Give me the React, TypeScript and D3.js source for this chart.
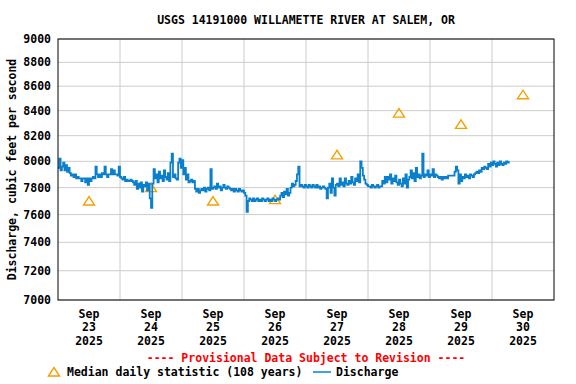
import React from "react";
import * as d3 from "d3";

// discharge, 30-minute values per day (cfs)
const sep23 = [7950, 8020, 7930, 7960, 7990, 7930, 7970, 7920, 7950, 7910, 7890, 7900, 7880, 7900, 7870, 7880,
  7870, 7870, 7850, 7870, 7870, 7840, 7870, 7820, 7870, 7850, 7870, 7880, 7870, 7960, 7900, 7880,
  7900, 7880, 7910, 7900, 7960, 7900, 7880, 7900, 7900, 7940, 7900, 7930, 7900, 7900, 7890, 7960];
const sep24 = [7880, 7870, 7860, 7880, 7850, 7860, 7850, 7850, 7860, 7850, 7840, 7820, 7850, 7790, 7830, 7800,
  7840, 7770, 7820, 7810, 7840, 7780, 7830, 7720, 7650, 7830, 7940, 7870, 7900, 7840, 7920, 7870,
  7890, 7850, 7930, 7880, 7860, 7910, 7850, 7990, 8060, 7880, 7900, 7870, 7860, 7990, 8020, 7950];
const sep25 = [8010, 7900, 7950, 7860, 7900, 7840, 7850, 7860, 7840, 7850, 7790, 7770, 7790, 7760, 7780, 7790,
  7780, 7800, 7770, 7790, 7800, 7780, 7940, 7790, 7800, 7810, 7790, 7830, 7800, 7810, 7780, 7800,
  7820, 7800, 7790, 7810, 7800, 7790, 7780, 7790, 7770, 7790, 7780, 7770, 7790, 7780, 7770, 7780];
const sep26 = [7760, 7740, 7620, 7700, 7720, 7710, 7700, 7720, 7700, 7710, 7720, 7700, 7710, 7700, 7720, 7710,
  7700, 7710, 7720, 7700, 7710, 7700, 7720, 7710, 7700, 7710, 7720, 7710, 7740, 7760, 7730, 7770,
  7750, 7790, 7740, 7760, 7800, 7830, 7810, 7820, 7850, 7900, 7960, 7810, 7820, 7810, 7800, 7820];
const sep27 = [7810, 7800, 7820, 7810, 7800, 7820, 7810, 7800, 7820, 7800, 7810, 7790, 7800, 7810, 7800, 7790,
  7720, 7800, 7830, 7760, 7870, 7800, 7740, 7820, 7830, 7810, 7870, 7820, 7840, 7810, 7870, 7830,
  7820, 7850, 7830, 7880, 7840, 7820, 7870, 7850, 7900, 7840, 8000, 7950, 7890, 7860, 7830, 7820];
const sep28 = [7810, 7810, 7800, 7820, 7810, 7800, 7810, 7820, 7800, 7810, 7810, 7850, 7830, 7880, 7840, 7880,
  7860, 7900, 7830, 7870, 7850, 7890, 7840, 7820, 7860, 7830, 7810, 7870, 7830, 7900, 7800, 7860,
  7880, 7930, 7870, 7910, 7850, 7950, 7880, 7900, 7870, 7890, 8060, 7880, 7900, 7890, 7930, 7880];
const sep29 = [7900, 7890, 7940, 7880, 7900, 7890, 7880, 7870, 7880, 7860, 7880, 7870, 7880, 7870, 7890, 7890,
  7890, 7890, 7890, 7920, 7960, 7930, 7830, 7900, 7850, 7880, 7870, 7900, 7880, 7890, 7870, 7900,
  7890, 7880, 7900, 7910, 7920, 7910, 7930, 7920, 7950, 7940, 7960, 7950, 7940, 7980, 7960, 7990];
const sep30 = [7970, 8000, 7980, 7960, 7990, 7970, 8000, 7980, 7970, 7990, 7980, 8000, 7990, 8000];

// median daily statistic (108 years), one per day at noon
const medianDays = [23, 24, 25, 26, 27, 28, 29, 30];
const medianValues = [7700, 7800, 7700, 7710, 8050, 8380, 8290, 8530];

const yTicks = [7000, 7200, 7400, 7600, 7800, 8000, 8200, 8400, 8600, 8800, 9000];
const dayLabels = ["23", "24", "25", "26", "27", "28", "29", "30"];

const W = 576;
const H = 384;
const margin = { top: 39, right: 22, bottom: 84, left: 58 };
const FONT = "'DejaVu Sans Mono', monospace";

const App = () => {
  const x = d3
    .scaleTime()
    .domain([new Date(2025, 8, 23), new Date(2025, 9, 1)])
    .range([margin.left, W - margin.right]);
  const y = d3
    .scaleLog()
    .domain([7000, 9000])
    .range([H - margin.bottom, margin.top]);

  const start = new Date(2025, 8, 23).getTime();
  const flows = [...sep23, ...sep24, ...sep25, ...sep26, ...sep27, ...sep28, ...sep29, ...sep30];
  const data = flows.map((v, i) => ({ t: new Date(start + i * 30 * 60 * 1000), v }));

  const line = d3
    .line<{ t: Date; v: number }>()
    .x((d) => x(d.t))
    .y((d) => y(d.v))
    .curve(d3.curveStepAfter);

  const dayTicks = d3.range(24, 31).map((d) => new Date(2025, 8, d));
  const tri = (cx: number, cy: number) =>
    `M${cx - 5.5},${cy + 4}L${cx},${cy - 4.5}L${cx + 5.5},${cy + 4}Z`;

  const x0 = margin.left;
  const x1 = W - margin.right;
  const y0 = margin.top;
  const y1 = H - margin.bottom;

  return (
    <svg
      width={W}
      height={H}
      style={{ position: "absolute", left: 0, top: 0, background: "#fff" }}
      fontFamily={FONT}
      fontWeight="bold"
      fontSize={11.5}
    >
      {/* title */}
      <text x={(x0 + x1) / 2} y={24} textAnchor="middle">
        USGS 14191000 WILLAMETTE RIVER AT SALEM, OR
      </text>

      {/* grid */}
      {yTicks.map((t) => (
        <line key={t} x1={x0} x2={x1} y1={y(t)} y2={y(t)} stroke="#cccccc" />
      ))}
      {dayTicks.map((d) => (
        <line key={+d} x1={x(d)} x2={x(d)} y1={y0} y2={y1} stroke="#cccccc" />
      ))}

      {/* median triangles */}
      {medianDays.map((d, i) => (
        <path
          key={d}
          d={tri(x(new Date(2025, 8, d, 12)), y(medianValues[i]))}
          fill="none"
          stroke="#f5a000"
          strokeWidth={1.4}
        />
      ))}

      {/* discharge */}
      <path d={line(data) || ""} fill="none" stroke="#0a80cc" strokeWidth={1.8} />

      {/* frame */}
      <rect x={x0} y={y0} width={x1 - x0} height={y1 - y0} fill="none" stroke="#000" />

      {/* y axis */}
      {yTicks.map((t) => (
        <text key={t} x={x0 - 7} y={y(t)} dy="0.35em" textAnchor="end">
          {t}
        </text>
      ))}
      <text
        transform={`translate(16,${(y0 + y1) / 2})rotate(-90)`}
        textAnchor="middle"
      >
        Discharge, cubic feet per second
      </text>

      {/* x axis */}
      {dayLabels.map((lab, i) => {
        const cx = x(new Date(2025, 8, 23 + i, 12));
        return (
          <g key={lab}>
            <text x={cx} y={318} textAnchor="middle">Sep</text>
            <text x={cx} y={331} textAnchor="middle">{lab}</text>
            <text x={cx} y={345} textAnchor="middle">2025</text>
          </g>
        );
      })}

      <text x={306} y={362} textAnchor="middle" fill="#ff0000">
        ---- Provisional Data Subject to Revision ----
      </text>

      {/* legend */}
      <path d={tri(54, 372)} fill="none" stroke="#f5a000" strokeWidth={1.4} />
      <text x={67} y={376}>Median daily statistic (108 years)</text>
      <line x1={313} x2={331} y1={372} y2={372} stroke="#0a80cc" strokeWidth={1.5} />
      <text x={336} y={376}>Discharge</text>
    </svg>
  );
};

export default App;
